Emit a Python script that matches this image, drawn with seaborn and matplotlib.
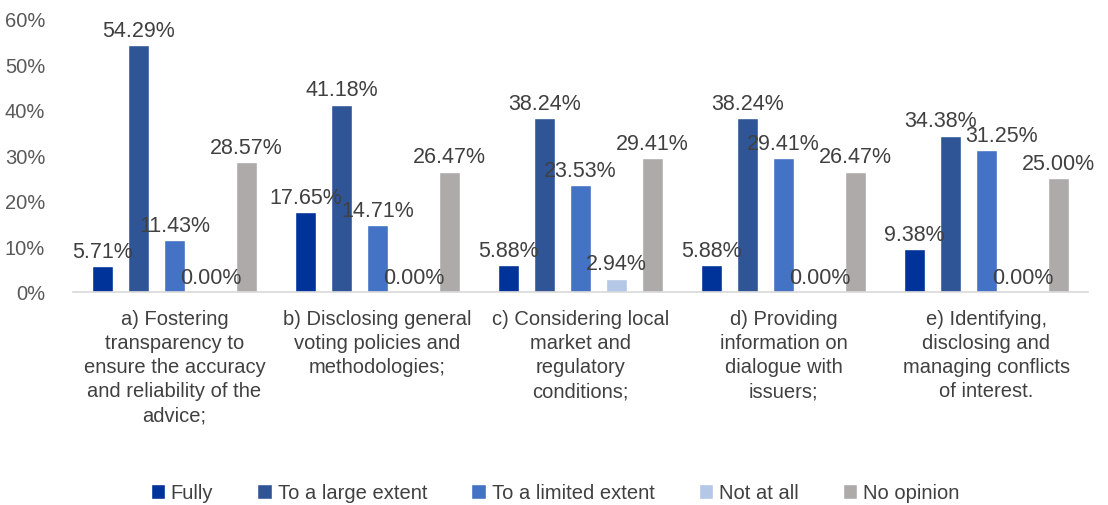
import matplotlib
matplotlib.use("Agg")

import matplotlib.pyplot as plt
import seaborn as sns
import pandas as pd
from matplotlib.ticker import FuncFormatter

categories = [
    "a) Fostering\ntransparency to\nensure the accuracy\nand reliability of the\nadvice;",
    "b) Disclosing general\nvoting policies and\nmethodologies;",
    "c) Considering local\nmarket and\nregulatory\nconditions;",
    "d) Providing\ninformation on\ndialogue with\nissuers;",
    "e) Identifying,\ndisclosing and\nmanaging conflicts\nof interest.",
]
answers = ["Fully", "To a large extent", "To a limited extent", "Not at all", "No opinion"]
fully = [5.71, 17.65, 5.88, 5.88, 9.38]
large = [54.29, 41.18, 38.24, 38.24, 34.38]
limited = [11.43, 14.71, 23.53, 29.41, 31.25]
not_at_all = [0.00, 0.00, 2.94, 0.00, 0.00]
no_opinion = [28.57, 26.47, 29.41, 26.47, 25.00]

colors = ["#003399", "#2F5597", "#4472C4", "#B4C7E7", "#AEAAAA"]

rows = []
for series, name in zip([fully, large, limited, not_at_all, no_opinion], answers):
    for cat, v in zip(categories, series):
        rows.append({"category": cat, "answer": name, "value": v})
df = pd.DataFrame(rows)

sns.set_style("white")
plt.rcParams["font.family"] = ["Liberation Sans", "DejaVu Sans"]

fig = plt.figure(figsize=(11.08, 5.06), dpi=100)
ax = fig.add_axes([73 / 1108, 213 / 506, 1015 / 1108, 273 / 506])

sns.barplot(data=df, x="category", y="value", hue="answer", hue_order=answers,
            palette=colors, width=0.887, gap=0.44, saturation=1, ax=ax)

labels = []
for c in ax.containers:
    labels.append(ax.bar_label(c, labels=[f"{v:.2f}%" for v in c.datavalues], padding=3,
                               fontsize=15.5, color="#404040"))

# nudge the two crowded labels in the last group apart, like the original
labels[1][4].xyann = (-7, 3)
labels[2][4].xyann = (11, 3)

ax.set_ylim(0, 60)
ax.set_yticks(range(0, 61, 10))
ax.yaxis.set_major_formatter(FuncFormatter(lambda v, p: f"{v:.0f}%"))
ax.tick_params(axis="y", labelsize=14.5, labelcolor="#595959", length=0, pad=20)
ax.tick_params(axis="x", labelsize=14.5, labelcolor="#404040", length=0, pad=12)
for t in ax.get_xticklabels():
    t.set_linespacing(1.35)
ax.set_xlabel("")
ax.set_ylabel("")
for s in ["top", "right", "left"]:
    ax.spines[s].set_visible(False)
ax.spines["bottom"].set_color("#D9D9D9")
ax.spines["bottom"].set_linewidth(1.2)

ax.legend(loc="center", bbox_to_anchor=(555 / 1108, 12 / 506), bbox_transform=fig.transFigure,
          ncol=5, frameon=False, fontsize=14.5, handlelength=0.7, handleheight=0.7,
          columnspacing=2.2, handletextpad=0.3, labelcolor="#404040")

fig.savefig("out.png", dpi=100)
